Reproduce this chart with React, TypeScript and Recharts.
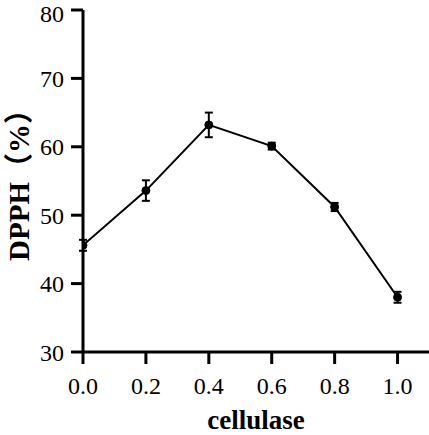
import { LineChart, Line, XAxis, YAxis, ErrorBar, Label } from 'recharts';

const doses = [0, 0.2, 0.4, 0.6, 0.8, 1.0];
const dpph = [45.6, 53.6, 63.2, 60.1, 51.2, 38.0];
const sd = [0.8, 1.5, 1.8, 0.5, 0.6, 0.8];
const xTicks = [0, 0.2, 0.4, 0.6, 0.8, 1.0];
const yTicks = [30, 40, 50, 60, 70, 80];

const data = doses.map((d, i) => ({ dose: d, value: dpph[i], err: sd[i] }));

const FONT = '"Liberation Serif", "Times New Roman", "Noto Sans CJK SC", serif';
const axisLine = { stroke: '#000', strokeWidth: 3 };
const tickStyle = { fill: '#000', fontSize: 24, fontFamily: FONT };

export default function App() {
  return (
    <div style={{ position: 'absolute', left: 0, top: 0, background: '#fff' }}>
      <LineChart
        width={429}
        height={435}
        data={data}
        margin={{ top: 10, right: 0, left: 0, bottom: 0 }}
      >
        <XAxis
          type="number"
          dataKey="dose"
          domain={[0, 1.1]}
          ticks={xTicks}
          tickFormatter={(v: number) => v.toFixed(1)}
          height={83}
          axisLine={axisLine}
          tickLine={axisLine}
          tickSize={12}
          tickMargin={13}
          tick={tickStyle}
          allowDataOverflow
        >
          <Label
            value="cellulase"
            position="insideBottom"
            offset={6}
            style={{ fill: '#000', fontSize: 27, fontWeight: 'bold', fontFamily: FONT }}
          />
        </XAxis>
        <YAxis
          type="number"
          domain={[30, 80]}
          ticks={yTicks}
          width={83}
          axisLine={axisLine}
          tickLine={axisLine}
          tickSize={12}
          tickMargin={7}
          tick={tickStyle}
          allowDataOverflow
        >
          <Label
            value="DPPH（%）"
            angle={-90}
            position="center"
            dx={-23}
            dy={-3}
            style={{ fill: '#000', fontSize: 29, fontWeight: 'bold', fontFamily: FONT, textAnchor: 'middle' }}
          />
        </YAxis>
        <Line
          type="linear"
          dataKey="value"
          stroke="#000"
          strokeWidth={2}
          dot={{ r: 4, fill: '#000', stroke: '#000', strokeWidth: 1 }}
          activeDot={false}
          isAnimationActive={false}
        >
          <ErrorBar dataKey="err" width={4} stroke="#000" strokeWidth={2} isAnimationActive={false} />
        </Line>
      </LineChart>
    </div>
  );
}
